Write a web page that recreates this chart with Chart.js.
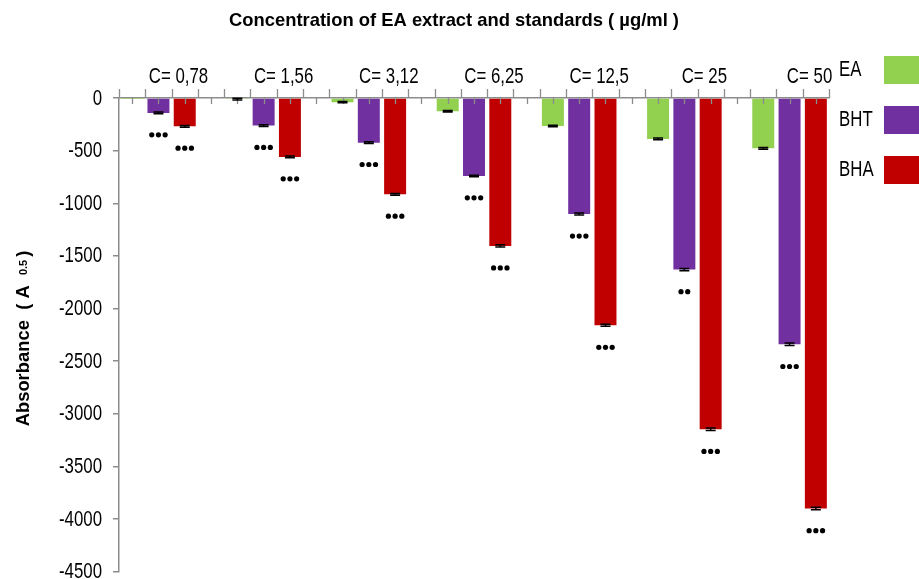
<!DOCTYPE html>
<html>
<head>
<meta charset="utf-8">
<title>Concentration of EA extract and standards</title>
<script src="https://cdn.jsdelivr.net/npm/chart.js@4/dist/chart.umd.min.js"></script>
<style>
  html, body { margin: 0; padding: 0; background: #ffffff; }
  canvas { display: block; }
</style>
</head>
<body>
<canvas id="chart" width="919" height="579"></canvas>
<script>
// Concentration groups (µg/ml) shown along the top axis
const categories = ['C= 0,78', 'C= 1,56', 'C= 3,12', 'C= 6,25', 'C= 12,5', 'C= 25', 'C= 50'];
const seriesNames = ['EA', 'BHT', 'BHA'];

// Absorbance (A 0.5) per concentration
const eaValues  = [-2, -10, -40, -126, -266, -389, -478];
const bhtValues = [-142, -262, -424, -741, -1102, -1630, -2339];
const bhaValues = [-269, -560, -915, -1405, -2159, -3146, -3899];

// Standard deviations
const eaErrors  = [0, 8, 6, 8, 8, 8, 8];
const bhtErrors = [8, 8, 8, 8, 10, 10, 12];
const bhaErrors = [8, 8, 8, 10, 10, 12, 12];

// Significance markers under each bar
const eaSig  = ['', '', '', '', '', '', ''];
const bhtSig = ['***', '***', '***', '***', '***', '**', '***'];
const bhaSig = ['***', '***', '***', '***', '***', '***', '***'];

// Value axis ticks
const yTickMin = -4500;
const yTickMax = 0;
const yTickStep = 500;

const chartTitle = 'Concentration of EA extract and standards ( µg/ml )';
const seriesColors = ['#92D050', '#7030A0', '#C00000'];

// Each concentration takes four slots on the axis: EA, BHT, BHA and a gap
const SLOTS_PER_GROUP = 4;
const slotOf = (g) => g * SLOTS_PER_GROUP + 1;   // middle bar of the group
const slotCount = categories.length * SLOTS_PER_GROUP - 1;

const SANS = "'Liberation Sans', Arial, Helvetica, sans-serif";
const LABEL_SIZE = 22;
const SQUEEZE = 0.765;        // horizontal compression for the narrow label face
const AXIS_GREY = '#8c8c8c';

const toPoints = (vals) => vals.map((v, g) => ({ x: slotOf(g), y: v }));

// Draws text in a condensed face by compressing it horizontally
function narrowText(ctx, text, x, y, align) {
  ctx.save();
  ctx.font = `${LABEL_SIZE}px ${SANS}`;
  ctx.textBaseline = 'middle';
  ctx.textAlign = 'left';
  ctx.fillStyle = '#000';
  const w = ctx.measureText(text).width * SQUEEZE;
  const left = align === 'right' ? x - w : align === 'center' ? x - w / 2 : x;
  ctx.translate(left, y);
  ctx.scale(SQUEEZE, 1);
  ctx.fillText(text, 0, 0);
  ctx.restore();
}

// Tick marks on the category axis: long ones between slots, short ones at slot centres
const axisTicks = {
  id: 'axisTicks',
  afterDatasetsDraw(chart) {
    const { ctx, chartArea, scales: { x } } = chart;
    const y0 = chartArea.top;
    ctx.save();
    ctx.strokeStyle = AXIS_GREY;
    ctx.lineWidth = 1.3;
    ctx.beginPath();
    for (let v = x.min; v <= x.max + 1e-6; v += 1) {
      const px = Math.round(x.getPixelForValue(v)) + 0.5;
      ctx.moveTo(px, y0 - 9);
      ctx.lineTo(px, y0);
    }
    for (let v = x.min + 0.5; v < x.max; v += 1) {
      const px = Math.round(x.getPixelForValue(v)) + 0.5;
      ctx.moveTo(px, y0);
      ctx.lineTo(px, y0 + 6);
    }
    ctx.stroke();
    ctx.restore();
  }
};

// Error bars and significance dots
const errorMarks = {
  id: 'errorMarks',
  afterDatasetsDraw(chart) {
    const { ctx, scales: { y } } = chart;
    ctx.save();
    chart.data.datasets.forEach((ds, di) => {
      const meta = chart.getDatasetMeta(di);
      meta.data.forEach((bar, i) => {
        const v = ds.data[i].y;
        const e = ds.errors[i];
        if (e > 0) {
          const yLo = y.getPixelForValue(v - e);
          const yHi = y.getPixelForValue(v + e);
          ctx.strokeStyle = '#000';
          ctx.lineWidth = 1.5;
          ctx.beginPath();
          ctx.moveTo(bar.x, yHi); ctx.lineTo(bar.x, yLo);
          ctx.moveTo(bar.x - 5, yLo); ctx.lineTo(bar.x + 5, yLo);
          ctx.moveTo(bar.x - 5, yHi); ctx.lineTo(bar.x + 5, yHi);
          ctx.stroke();
        }
        const s = ds.sig[i];
        if (s) {
          const n = s.length;
          const cy = y.getPixelForValue(v - e) + 21;
          ctx.fillStyle = '#000';
          for (let k = 0; k < n; k++) {
            const cx = bar.x + (k - (n - 1) / 2) * 6.7;
            ctx.beginPath();
            ctx.arc(cx, cy, 2.6, 0, Math.PI * 2);
            ctx.fill();
          }
        }
      });
    });
    ctx.restore();
  }
};

// Axis labels, titles and the legend
const textLayer = {
  id: 'textLayer',
  afterDraw(chart) {
    const { ctx, chartArea, scales: { x, y } } = chart;

    // chart title
    ctx.save();
    ctx.font = `bold 18.4px ${SANS}`;
    ctx.fillStyle = '#000';
    ctx.textAlign = 'center';
    ctx.textBaseline = 'middle';
    ctx.fillText(chartTitle, 454, 20.5);
    ctx.restore();

    // concentration labels above the axis
    x.ticks.forEach((t) => {
      const g = (t.value - 1) / SLOTS_PER_GROUP;
      narrowText(ctx, categories[g], x.getPixelForValue(t.value) + 20, chartArea.top - 21, 'center');
    });

    // value-axis labels
    y.ticks.forEach((t) => {
      narrowText(ctx, String(t.value), chartArea.left - 17, y.getPixelForValue(t.value) + 0.5, 'right');
    });

    // rotated value-axis title with a subscript
    const parts = [
      { t: 'Absorbance  ( A  ', f: `bold 18.4px ${SANS}`, dy: 0 },
      { t: '0.5 ', f: `bold 11px ${SANS}`, dy: -1.5 },
      { t: ')', f: `bold 18.4px ${SANS}`, dy: 0 }
    ];
    let total = 0;
    parts.forEach(p => { ctx.font = p.f; p.w = ctx.measureText(p.t).width; total += p.w; });
    ctx.save();
    ctx.translate(28.5, 338.5);
    ctx.rotate(-Math.PI / 2);
    ctx.fillStyle = '#000';
    ctx.textBaseline = 'alphabetic';
    ctx.textAlign = 'left';
    let xx = -total / 2;
    parts.forEach(p => { ctx.font = p.f; ctx.fillText(p.t, xx, p.dy); xx += p.w; });
    ctx.restore();

    // legend: name first, then the colour block
    chart.data.datasets.forEach((ds, i) => {
      const cy = 70 + i * 50;
      narrowText(ctx, ds.label, 839, cy, 'left');
      ctx.save();
      ctx.fillStyle = ds.backgroundColor;
      ctx.fillRect(884, cy - 14, 40, 28);
      ctx.restore();
    });
  }
};

new Chart(document.getElementById('chart'), {
  type: 'bar',
  data: {
    datasets: [
      { label: seriesNames[0], data: toPoints(eaValues),  errors: eaErrors,  sig: eaSig,  backgroundColor: seriesColors[0] },
      { label: seriesNames[1], data: toPoints(bhtValues), errors: bhtErrors, sig: bhtSig, backgroundColor: seriesColors[1] },
      { label: seriesNames[2], data: toPoints(bhaValues), errors: bhaErrors, sig: bhaSig, backgroundColor: seriesColors[2] }
    ]
  },
  options: {
    responsive: false,
    animation: false,
    devicePixelRatio: 1,
    categoryPercentage: 0.75,
    barPercentage: 0.836,
    layout: { padding: { left: 0, right: 90, top: 0, bottom: 7.3 } },
    plugins: {
      legend: { display: false },
      tooltip: { enabled: false },
      title: { display: false }
    },
    scales: {
      x: {
        type: 'linear',
        position: 'top',
        offset: false,
        min: -0.5,
        max: slotCount - 0.5,
        grid: { display: false, drawTicks: false, offset: false },
        border: { display: true, color: AXIS_GREY, width: 1.5 },
        afterBuildTicks: (axis) => { axis.ticks = categories.map((_, g) => ({ value: slotOf(g) })); },
        afterFit: (axis) => { axis.height = 98; },
        ticks: { display: false }
      },
      y: {
        min: yTickMin,
        max: yTickMax,
        afterFit: (axis) => { axis.width = 119; },
        grid: { display: true, drawOnChartArea: false, drawTicks: true, tickLength: 6, color: AXIS_GREY, lineWidth: 1.5 },
        border: { display: true, color: AXIS_GREY, width: 1.5 },
        ticks: { display: false, stepSize: yTickStep }
      }
    }
  },
  plugins: [axisTicks, errorMarks, textLayer]
});
</script>
</body>
</html>
